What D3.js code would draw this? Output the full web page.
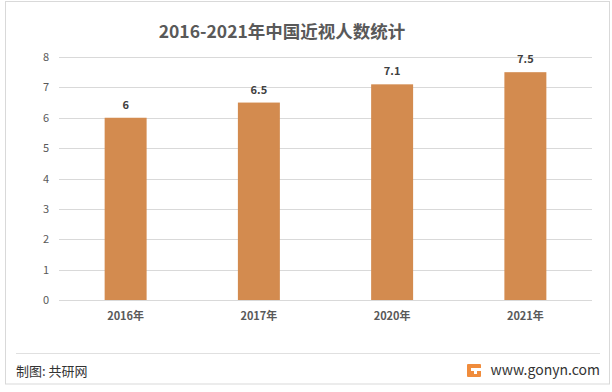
<!DOCTYPE html>
<html><head><meta charset="utf-8">
<script src="https://cdn.jsdelivr.net/npm/d3@7/dist/d3.min.js"></script>
<style>body{margin:0;background:#fff}svg{display:block}</style>
</head><body><svg id="c" width="612" height="392"></svg>
<script>
const categories = ["2016年","2017年","2020年","2021年"];
const values = [6, 6.5, 7.1, 7.5];
const yTicks = [0,1,2,3,4,5,6,7,8];
const title = "2016-2021年中国近视人数统计";
const source = "制图: 共研网";
const site = "www.gonyn.com";

const svg = d3.select("#c");
const font = "'Microsoft YaHei','Noto Sans CJK SC','DejaVu Sans',sans-serif";
svg.append("rect").attr("x",5.5).attr("y",1.5).attr("width",604).attr("height",382.5)
  .attr("fill","#fff").attr("stroke","#D9D9D9");

const x = d3.scaleBand().domain(categories).range([59,592]).paddingInner(0.685).paddingOuter(0.3425);
const y = d3.scaleLinear().domain([0,8]).range([300,57]);

const g = svg.append("g");
g.selectAll("line.grid").data(yTicks).join("line").attr("class","grid")
  .attr("x1",59).attr("x2",592).attr("y1",d=>Math.round(y(d))+0.5).attr("y2",d=>Math.round(y(d))+0.5)
  .attr("stroke","#D9D9D9").attr("stroke-width",1);

const yAxis = d3.axisLeft(y).tickValues(yTicks).tickSize(0).tickPadding(10);
const ya = svg.append("g").attr("transform","translate(59,0)").call(yAxis);
ya.select(".domain").remove();
ya.selectAll("text").attr("font-family",font).attr("font-size",11).attr("fill","#595959");

g.selectAll("rect.bar").data(values).join("rect").attr("class","bar")
  .attr("x",(d,i)=>x(categories[i])).attr("width",x.bandwidth())
  .attr("y",d=>y(d)).attr("height",d=>y(0)-y(d)).attr("fill","#D38B4F");

g.selectAll("text.val").data(values).join("text").attr("class","val")
  .attr("x",(d,i)=>x(categories[i])+x.bandwidth()/2).attr("y",d=>y(d)-9)
  .attr("text-anchor","middle").attr("font-family",font).attr("font-size",11)
  .attr("font-weight","bold").attr("fill","#404040").text(d=>d);

const xAxis = d3.axisBottom(x).tickSize(0).tickPadding(12);
const xa = svg.append("g").attr("transform","translate(0,300)").call(xAxis);
xa.select(".domain").remove();
xa.selectAll("text").attr("font-family",font).attr("font-size",11).attr("font-weight","bold").attr("fill","#595959");

svg.append("text").attr("x",282).attr("y",38).attr("text-anchor","middle")
  .attr("font-family",font).attr("font-size",17.5).attr("font-weight","bold").attr("fill","#595959").text(title);

svg.append("line").attr("x1",16).attr("x2",600).attr("y1",353.5).attr("y2",353.5).attr("stroke","#E0E0E0");
svg.append("text").attr("x",16).attr("y",376).attr("font-family",font).attr("font-size",13)
  .attr("fill","#333").text(source);
// logo
const lg = svg.append("g").attr("transform","translate(467,364)");
lg.append("rect").attr("width",14).attr("height",13).attr("rx",1).attr("fill","#F08C3C");
lg.append("rect").attr("x",4).attr("y",4).attr("width",10).attr("height",3).attr("fill","#fff");
lg.append("rect").attr("x",7).attr("y",7).attr("width",3).attr("height",3).attr("fill","#fff");
svg.append("text").attr("x",600).attr("y",375).attr("text-anchor","end").attr("font-family",font)
  .attr("font-size",14).attr("fill","#333").text(site);
</script></body></html>
